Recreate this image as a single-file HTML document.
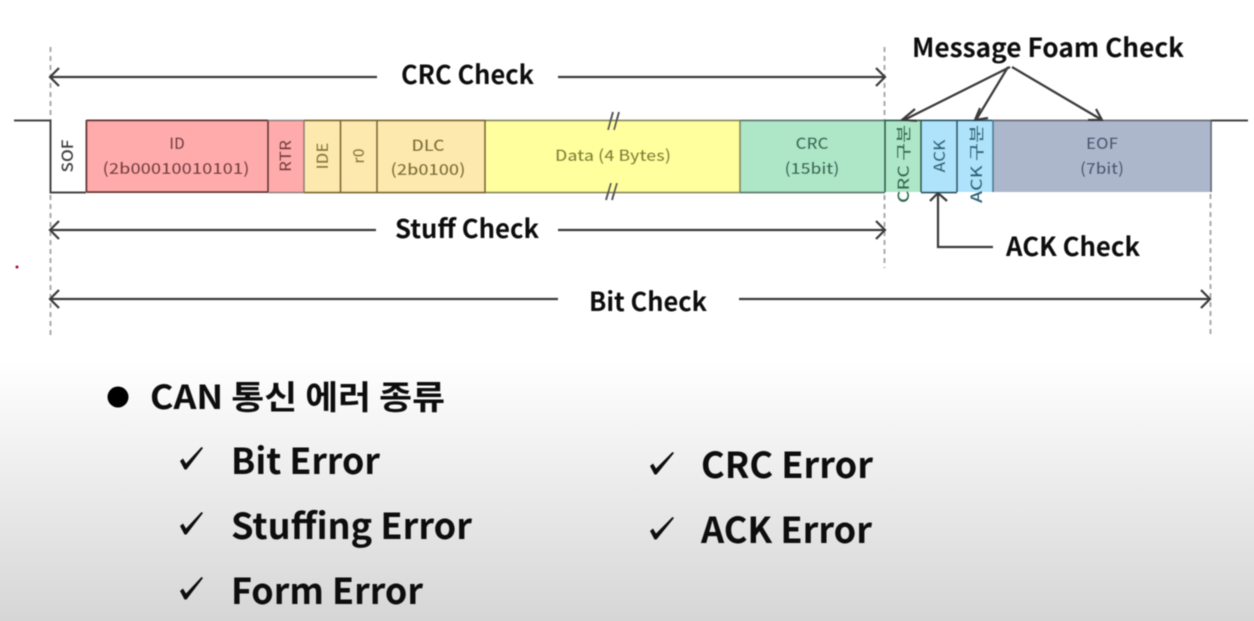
<!DOCTYPE html>
<html><head><meta charset="utf-8">
<style>
html,body{margin:0;padding:0;width:1254px;height:621px;overflow:hidden;background:#fff}
svg{display:block}
text{font-family:"Noto Sans CJK KR","Liberation Sans",sans-serif}
.b{font-weight:700;fill:#0c0c0c}
.c{font-size:15.5px;text-anchor:middle;font-weight:500}
.l{stroke:#3a3a3a;stroke-width:2.2;fill:none}
.d{stroke:#aaa;stroke-width:2;stroke-dasharray:5 4;fill:none}
</style></head><body>
<svg width="1254" height="621" viewBox="0 0 1254 621" xmlns="http://www.w3.org/2000/svg">
<defs>
<linearGradient id="g" x1="0" y1="0" x2="0" y2="1"><stop offset="0" stop-color="#fff"/><stop offset="1" stop-color="#d6d6d6"/></linearGradient>
<filter id="s" x="-2%" y="-2%" width="104%" height="104%"><feGaussianBlur stdDeviation="0.55"/></filter>
</defs>
<rect x="0" y="360" width="1254" height="261" fill="url(#g)"/>
<g filter="url(#s)">
<path class="d" d="M50.5 47V120M50.5 195V335M884.5 47V120M884.5 195V268M1210.5 194V335"/>
<circle cx="17" cy="267" r="1.5" fill="#a01040"/>
<rect x="86" y="120" width="182" height="72" fill="#ffabab"/>
<rect x="268" y="120" width="36" height="72" fill="#ffabab"/>
<rect x="304" y="120" width="73" height="72" fill="#fde8ad"/>
<rect x="377" y="120" width="109" height="72" fill="#fde8ad"/>
<rect x="486" y="120" width="254" height="72" fill="#ffff9e"/>
<rect x="740" y="120" width="145" height="72" fill="#aee6c8"/>
<rect x="885" y="120" width="36" height="72" fill="#aee6c8"/>
<rect x="921" y="120" width="72" height="72" fill="#aee3fb"/>
<rect x="993" y="120" width="218" height="72" fill="#adb7cc"/>
<path d="M86.5 120.5H268M86.5 192H268M86.5 120V192M268 120V192" stroke="#6b3a3a" stroke-width="2" fill="none"/>
<path d="M268 120.5H304M268 192.5H304M304 120V192" stroke="#8a7a7a" stroke-width="1.6" fill="none"/>
<path d="M304 120.5H486M304 192.5H486M340.5 120V192M377 120V192M485 120V192" stroke="#7a6a30" stroke-width="1.8" fill="none"/>
<path d="M486 120.5H740M486 192.5H740M740 120V192" stroke="#8a8a60" stroke-width="1.8" fill="none"/>
<path d="M740 120.5H885M740 192.5H885" stroke="#5a7a6a" stroke-width="1.8" fill="none"/>
<path d="M885 120V192M885 120.5H921M921 120V192" stroke="#2f5a48" stroke-width="1.8" fill="none"/>
<path d="M921 192.5H957M957 120.5V192M921 120.5H993" stroke="#2c5566" stroke-width="1.8" fill="none"/>
<path d="M993 120V192" stroke="#4d7f9a" stroke-width="1.8" fill="none"/>
<path d="M993 120.5H1211M1211 120V192" stroke="#666c78" stroke-width="1.8" fill="none"/>
<path d="M14 120.5H50.5V192.5H86" stroke="#444" stroke-width="2" fill="none"/>
<path d="M1211 120.5H1248" stroke="#444" stroke-width="2" fill="none"/>
<path d="M608 130L613 112M614 130L619 112M606 200L611 183M612 200L617 183" stroke="#555" stroke-width="2" fill="none"/>
<text class="c" x="177" y="149" fill="#7a4040">ID</text>
<text class="c" x="176" y="174" fill="#7a4040" textLength="147" lengthAdjust="spacingAndGlyphs">(2b00010010101)</text>
<text class="c" transform="translate(291,156) rotate(-90)" fill="#7a4040" textLength="32" lengthAdjust="spacingAndGlyphs">RTR</text>
<text class="c" transform="translate(328,156) rotate(-90)" fill="#8a7a30" textLength="27" lengthAdjust="spacingAndGlyphs">IDE</text>
<text class="c" transform="translate(364,156) rotate(-90)" fill="#8a7a30">r0</text>
<text class="c" x="428" y="151" fill="#7d6f30" textLength="33" lengthAdjust="spacingAndGlyphs">DLC</text>
<text class="c" x="428" y="175" fill="#7d6f30" textLength="75" lengthAdjust="spacingAndGlyphs">(2b0100)</text>
<text class="c" x="613" y="161" fill="#85853a" textLength="116" lengthAdjust="spacingAndGlyphs">Data (4 Bytes)</text>
<text class="c" x="812" y="149" fill="#3a6c58" textLength="33" lengthAdjust="spacingAndGlyphs">CRC</text>
<text class="c" x="812" y="174" fill="#3a6c58" textLength="55" lengthAdjust="spacingAndGlyphs">(15bit)</text>
<text x="909" y="203" transform="rotate(-90 909 203)" font-size="15.5" font-weight="500" fill="#2f6a50" textLength="78" lengthAdjust="spacingAndGlyphs">CRC 구분</text>
<text class="c" transform="translate(945,156) rotate(-90)" fill="#2f6579" textLength="33" lengthAdjust="spacingAndGlyphs">ACK</text>
<text x="982" y="203" transform="rotate(-90 982 203)" font-size="15.5" font-weight="500" fill="#2f6579" textLength="78" lengthAdjust="spacingAndGlyphs">ACK 구분</text>
<text class="c" x="1102" y="149" fill="#4f5a74" textLength="32" lengthAdjust="spacingAndGlyphs">EOF</text>
<text class="c" x="1102" y="174" fill="#4f5a74" textLength="44" lengthAdjust="spacingAndGlyphs">(7bit)</text>
<text class="c" transform="translate(73,156) rotate(-90)" fill="#444" textLength="33" lengthAdjust="spacingAndGlyphs">SOF</text>
<path class="l" d="M51 77H377M59 68L50 77L59 86M558 77H885M876 68L885 77L876 86"/>
<path class="l" d="M51 230H376M59 221L50 230L59 239M558 230H885M876 221L885 230L876 239"/>
<path class="l" d="M51 299H558M59 290L50 299L59 308M739 299H1210M1201 290L1210 299L1201 308"/>
<path class="l" d="M1010 67L904 120M915 109L902 120L917 121M1008 67L976 120M980 108L975 120L988 118M1012 67L1102 120M1096 109L1102 120L1088 120"/>
<path class="l" d="M938 193V247H993M930 201L938 193L947 201"/>
<text class="b" x="912" y="57" font-size="26" textLength="272" lengthAdjust="spacingAndGlyphs">Message Foam Check</text>
<text class="b" x="401" y="84" font-size="26" textLength="133" lengthAdjust="spacingAndGlyphs">CRC Check</text>
<text class="b" x="395" y="238" font-size="26" textLength="144" lengthAdjust="spacingAndGlyphs">Stuff Check</text>
<text class="b" x="1006" y="256" font-size="26" textLength="134" lengthAdjust="spacingAndGlyphs">ACK Check</text>
<text class="b" x="589" y="311" font-size="26" textLength="118" lengthAdjust="spacingAndGlyphs">Bit Check</text>
<circle cx="118" cy="397" r="10.5" fill="#000"/>
<text class="b" x="150" y="409" font-size="33" textLength="295" lengthAdjust="spacingAndGlyphs">CAN 통신 에러 종류</text>
<g fill="#0c0c0c">
<path d="M180 461L183 458.5L186 463.5L201.5 447L203 448L186.5 469.5H184.5Z"/>
<path d="M180 526L183 523.5L186 528.5L201.5 512L203 513L186.5 534.5H184.5Z"/>
<path d="M180 591L183 588.5L186 593.5L201.5 577L203 578L186.5 599.5H184.5Z"/>
<path d="M650 466L653 463.5L656 468.5L672.5 452L674 453L656.5 474.5H654.5Z"/>
<path d="M650 531L653 528.5L656 533.5L672.5 517L674 518L656.5 539.5H654.5Z"/>
</g>
<text class="b" x="231" y="474" font-size="36" textLength="149" lengthAdjust="spacingAndGlyphs">Bit Error</text>
<text class="b" x="231" y="539" font-size="36" textLength="241" lengthAdjust="spacingAndGlyphs">Stuffing Error</text>
<text class="b" x="231" y="604" font-size="36" textLength="192" lengthAdjust="spacingAndGlyphs">Form Error</text>
<text class="b" x="701" y="478" font-size="36" textLength="172" lengthAdjust="spacingAndGlyphs">CRC Error</text>
<text class="b" x="701" y="543" font-size="36" textLength="171" lengthAdjust="spacingAndGlyphs">ACK Error</text>
</g>
</svg>
</body></html>
